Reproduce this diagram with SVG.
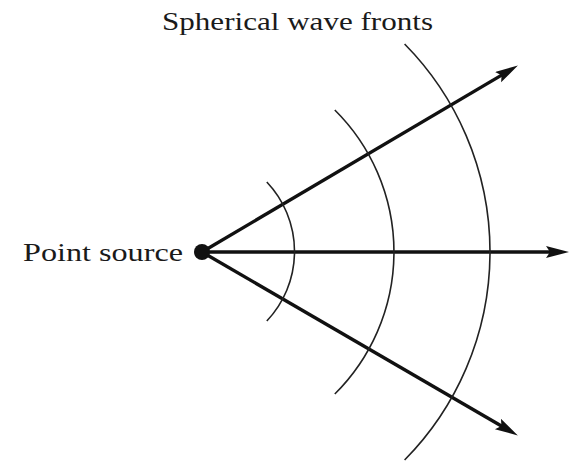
<svg xmlns="http://www.w3.org/2000/svg" width="575" height="461" viewBox="0 0 575 461">
<style>
.lbl{font-family:"Liberation Serif","Times New Roman",serif;font-size:26px;fill:#1a1a1a}
.ray{stroke:#111;stroke-width:3.4;fill:none}
.front{stroke:#222;stroke-width:1.6;fill:none}
</style>
<defs>
<marker id="ah" markerUnits="userSpaceOnUse" markerWidth="26" markerHeight="14" refX="10" refY="6" orient="auto">
<path d="M0,0 L23,6 L0,12 L4,6 z" fill="#111"/>
</marker>
</defs>
<rect width="575" height="461" fill="#fff"/>
<g id="connectors">
<line class="ray" x1="202" y1="252" x2="506.7" y2="72.1" marker-end="url(#ah)"/>
<line class="ray" x1="202" y1="252" x2="556" y2="252" marker-end="url(#ah)"/>
<line class="ray" x1="202" y1="252" x2="506.6" y2="429" marker-end="url(#ah)"/>
</g>
<g id="wavefronts">
<path class="front" d="M266.8,182 A101,101 0 0 1 266.8,321"/>
<path class="front" d="M334.8,110 A200,200 0 0 1 334.8,394"/>
<path class="front" d="M404.6,44 A296,296 0 0 1 404.6,460"/>
</g>
<g id="source">
<circle cx="202" cy="252" r="8" fill="#111"/>
<text class="lbl" x="23" y="261" textLength="160" lengthAdjust="spacingAndGlyphs">Point source</text>
</g>
<g id="title">
<text class="lbl" x="162" y="30" textLength="271" lengthAdjust="spacingAndGlyphs">Spherical wave fronts</text>
</g>
</svg>
